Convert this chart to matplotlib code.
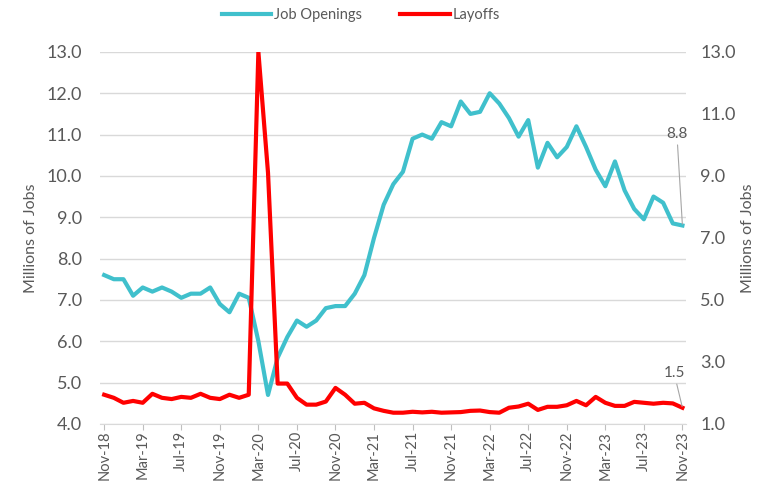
import matplotlib.pyplot as plt

months = ['Nov-18', 'Dec-18',
          'Jan-19', 'Feb-19', 'Mar-19', 'Apr-19', 'May-19', 'Jun-19',
          'Jul-19', 'Aug-19', 'Sep-19', 'Oct-19', 'Nov-19', 'Dec-19',
          'Jan-20', 'Feb-20', 'Mar-20', 'Apr-20', 'May-20', 'Jun-20',
          'Jul-20', 'Aug-20', 'Sep-20', 'Oct-20', 'Nov-20', 'Dec-20',
          'Jan-21', 'Feb-21', 'Mar-21', 'Apr-21', 'May-21', 'Jun-21',
          'Jul-21', 'Aug-21', 'Sep-21', 'Oct-21', 'Nov-21', 'Dec-21',
          'Jan-22', 'Feb-22', 'Mar-22', 'Apr-22', 'May-22', 'Jun-22',
          'Jul-22', 'Aug-22', 'Sep-22', 'Oct-22', 'Nov-22', 'Dec-22',
          'Jan-23', 'Feb-23', 'Mar-23', 'Apr-23', 'May-23', 'Jun-23',
          'Jul-23', 'Aug-23', 'Sep-23', 'Oct-23', 'Nov-23']

# millions, left axis
job_openings = [7.6, 7.5,
                7.5, 7.1, 7.3, 7.2, 7.3, 7.2, 7.05, 7.15, 7.15, 7.3, 6.9, 6.7,
                7.15, 7.05, 6.0, 4.7, 5.6, 6.1, 6.5, 6.35, 6.5, 6.8, 6.85, 6.85,
                7.15, 7.6, 8.5, 9.3, 9.8, 10.1, 10.9, 11.0, 10.9, 11.3, 11.2, 11.8,
                11.5, 11.55, 12.0, 11.75, 11.4, 10.95, 11.35, 10.2, 10.8, 10.45, 10.7, 11.2,
                10.7, 10.15, 9.75, 10.35, 9.65, 9.2, 8.95, 9.5, 9.35, 8.85, 8.8]

# millions, right axis
layoffs = [1.94, 1.84,
           1.68, 1.74, 1.68, 1.97, 1.84, 1.8, 1.87, 1.84, 1.97, 1.84, 1.8, 1.94,
           1.84, 1.94, 13.0, 9.1, 2.3, 2.3, 1.84, 1.62, 1.62, 1.72, 2.16, 1.94,
           1.65, 1.68, 1.5, 1.42, 1.36, 1.36, 1.39, 1.37, 1.39, 1.36, 1.37, 1.38,
           1.42, 1.43, 1.38, 1.36, 1.52, 1.56, 1.65, 1.45, 1.55, 1.55, 1.6, 1.74,
           1.6, 1.87, 1.68, 1.58, 1.58, 1.71, 1.68, 1.65, 1.68, 1.66, 1.52]

left_ticks = [4, 5, 6, 7, 8, 9, 10, 11, 12, 13]
right_ticks = [1, 3, 5, 7, 9, 11, 13]

TEXT = '#595959'
CYAN = '#40C0CC'
RED = '#FF0000'

plt.rcParams['font.family'] = ['Lato', 'DejaVu Sans']

fig = plt.figure(figsize=(7.6, 5.04), dpi=100)
ax = fig.add_axes([0.132, 0.159, 0.771, 0.738])
ax2 = ax.twinx()

x = list(range(len(months)))
l1, = ax.plot(x, job_openings, color=CYAN, lw=3, solid_joinstyle='round', label='Job Openings')
l2, = ax2.plot(x, layoffs, color=RED, lw=3, solid_joinstyle='round', label='Layoffs')

ax.set_xlim(-0.4, len(months) - 0.6)
ax.set_ylim(4, 13)
ax2.set_ylim(1, 13)
ax.set_yticks(left_ticks)
ax.set_yticklabels([f'{v:.1f}' for v in left_ticks])
ax2.set_yticks(right_ticks)
ax2.set_yticklabels([f'{v:.1f}' for v in right_ticks])

ax.set_xticks(x[::4])
ax.set_xticklabels(months[::4], rotation=90)

ax.grid(axis='y', color='#D9D9D9', lw=1)
ax.set_axisbelow(True)
for a in (ax, ax2):
    for s in ('top', 'left', 'right'):
        a.spines[s].set_visible(False)
    a.spines['bottom'].set_color('#D9D9D9')
ax2.spines['bottom'].set_visible(False)

ax.tick_params(axis='y', length=0, labelsize=13, labelcolor=TEXT, pad=13)
ax2.tick_params(axis='y', length=0, labelsize=13, labelcolor=TEXT, pad=10)
ax.tick_params(axis='x', length=4, color='#BFBFBF', labelsize=10.5, labelcolor=TEXT, pad=1)

ax.set_ylabel('Millions of Jobs', fontsize=11.5, color=TEXT, labelpad=6)
ax2.set_ylabel('Millions of Jobs', fontsize=11.5, color=TEXT, labelpad=4, rotation=90)

ax.annotate(f'{job_openings[-1]:.1f}', xy=(x[-1], job_openings[-1]),
            xytext=(-4, 61), textcoords='offset points', ha='center', va='bottom',
            fontsize=11, color=TEXT,
            arrowprops=dict(arrowstyle='-', color='#A6A6A6', lw=0.8, shrinkA=1, shrinkB=1))
ax2.annotate(f'{layoffs[-1]:.1f}', xy=(x[-1], layoffs[-1]),
             xytext=(-6, 20), textcoords='offset points', ha='center', va='bottom',
             fontsize=11, color=TEXT,
             arrowprops=dict(arrowstyle='-', color='#A6A6A6', lw=0.8, shrinkA=1, shrinkB=1))

fig.legend(handles=[l1, l2], loc='upper center', bbox_to_anchor=(0.475, 1.01), ncol=2,
           frameon=False, fontsize=10.5, handlelength=3.4, handletextpad=0.2,
           columnspacing=2.6, labelcolor=TEXT)

fig.savefig('out.png', dpi=100)
